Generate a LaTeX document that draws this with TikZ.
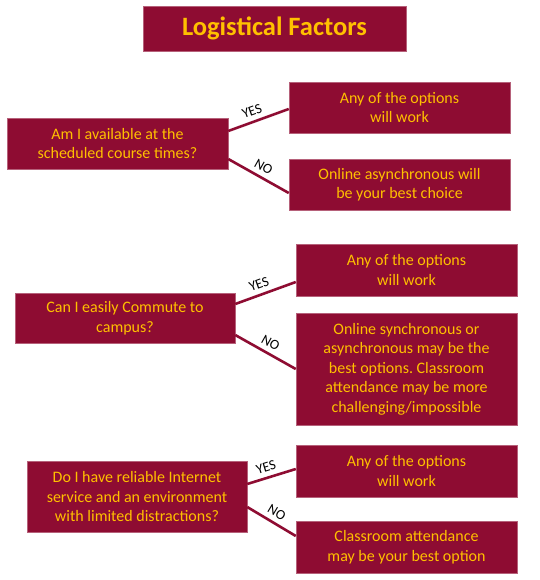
\documentclass[tikz,border=0pt]{standalone}
\usepackage{fontspec}
\setmainfont{Carlito}
\frenchspacing
\definecolor{maroon}{RGB}{142,12,50}
\definecolor{gold}{RGB}{255,192,0}
\begin{document}
\begin{tikzpicture}[x=1pt,y=-1pt,
  box/.style={fill=maroon,draw=maroon!65!white,line width=0.5pt,text=gold,align=center,
    inner sep=0pt,minimum width=221pt,font=\fontsize{16}{19.5}\selectfont},
  link/.style={maroon,line width=2.6pt},
  ans/.style={black,sloped,above,inner sep=4.5pt,font=\fontsize{14}{14}\selectfont}]
  \useasboundingbox (0,0) rectangle (539,580);
  \node[box,minimum width=263pt,minimum height=45pt,font=\fontsize{26.5}{26.5}\selectfont\bfseries]
    (title) at (274.5,28.5) {Logistical Factors};
  % first question
  \node[box,minimum height=51pt] (q1) at (117.5,143.5) {Am I available at the\\scheduled course times?};
  \node[box,minimum height=51pt] (a1y) at (399.5,107.5) {Any of the options\\will work};
  \node[box,minimum height=51pt] (a1n) at (399.5,184.5) {Online asynchronous will\\be your best choice};
  \draw[link] ([yshift=12.5pt]q1.east) -- node[ans,pos=0.45] {YES} ([yshift=-1.5pt]a1y.west);
  \draw[link] ([yshift=-15.5pt]q1.east) -- node[ans] {NO} ([yshift=-8.5pt]a1n.west);
  % second question
  \node[box,minimum width=220pt,minimum height=50pt] (q2) at (125,318) {Can I easily Commute to\\campus?};
  \node[box,minimum height=52pt] (a2y) at (406.5,270) {Any of the options\\will work};
  \node[box,minimum height=112pt] (a2n) at (406.5,369) {Online synchronous or\\asynchronous may be the\\best options. Classroom\\attendance may be more\\challenging/impossible};
  \draw[link] ([yshift=14pt]q2.east) -- node[ans,pos=0.45] {YES} ([yshift=-12pt]a2y.west);
  \draw[link] ([yshift=-17pt]q2.east) -- node[ans] {NO} (a2n.west);
  % third question
  \node[box,minimum width=220pt,minimum height=71pt] (q3) at (137,496.5) {Do I have reliable Internet\\service and an environment\\with limited distractions?};
  \node[box,minimum height=52pt] (a3y) at (406.5,471) {Any of the options\\will work};
  \node[box,minimum height=52pt] (a3n) at (406.5,547) {Classroom attendance\\may be your best option};
  \draw[link] ([yshift=12.5pt]q3.east) -- node[ans,pos=0.45] {YES} ([yshift=2pt]a3y.west);
  \draw[link] ([yshift=-10.5pt]q3.east) -- node[ans] {NO} ([yshift=11pt]a3n.west);
\end{tikzpicture}
\end{document}
